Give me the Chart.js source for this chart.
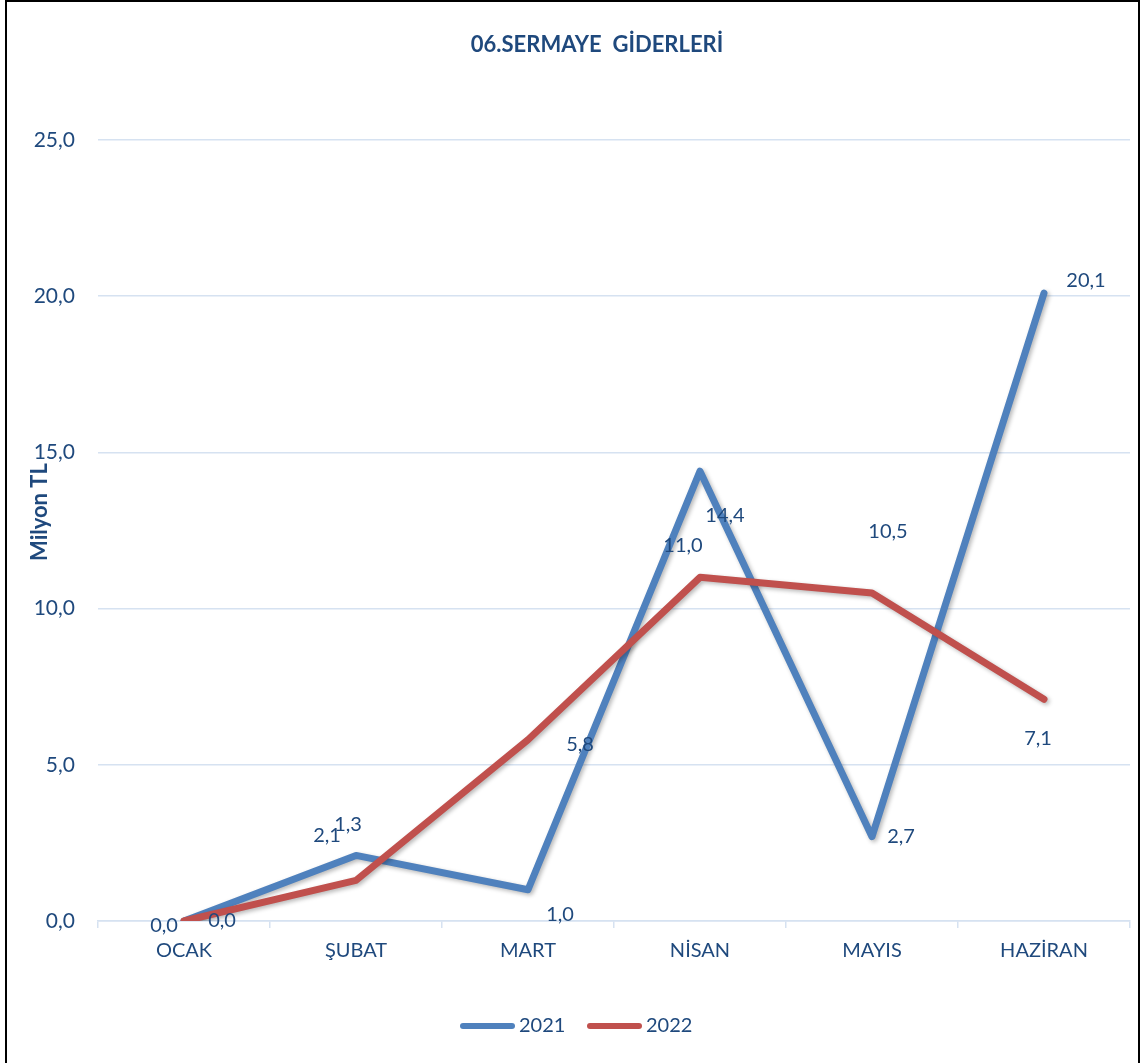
<!DOCTYPE html>
<html><head><meta charset="utf-8">
<script src="https://cdn.jsdelivr.net/npm/chart.js@4/dist/chart.umd.min.js"></script>
<style>html,body{margin:0;padding:0;background:#fff;overflow:hidden}</style>
</head><body>
<canvas id="c" width="1144" height="1063"></canvas>
<script>
const chartTitle = '06.SERMAYE  GİDERLERİ';
const yAxisTitle = 'Milyon TL';
const categories = ['OCAK', 'ŞUBAT', 'MART', 'NİSAN', 'MAYIS', 'HAZİRAN'];
const seriesNames = ['2021', '2022'];
const values2021 = [0.0, 2.1, 1.0, 14.4, 2.7, 20.1];
const values2022 = [0.0, 1.3, 5.8, 11.0, 10.5, 7.1];
const yTickValues = [0, 5, 10, 15, 20, 25];

// label placement offsets (pixels from point), styling only
const labelOffsets2021 = [[-20, 5], [-29, -20], [32, 25], [25, 44], [29, 0], [42, -13]];
const labelOffsets2022 = [[38, 0], [-8, -56], [52, 5], [-17, -32], [16, -61], [-6, 39]];

const TEXT = '#1F497D';
const GRID = '#D6E2F1';
const FONT = 'Lato, "Open Sans", sans-serif';
const fmt = v => v.toFixed(1).replace('.', ',');

const decor = {
  id: 'decor',
  beforeDatasetDraw(chart) {
    const ctx = chart.ctx;
    ctx.save();
    ctx.shadowColor = 'rgba(0,0,0,0.28)';
    ctx.shadowBlur = 4;
    ctx.shadowOffsetX = 2;
    ctx.shadowOffsetY = 2;
  },
  afterDatasetDraw(chart) { chart.ctx.restore(); },
  afterDraw(chart) {
    const ctx = chart.ctx;
    ctx.save();
    // frame
    ctx.strokeStyle = '#000';
    ctx.lineWidth = 2;
    ctx.strokeRect(6, 1, 1133, 1080);
    // title
    ctx.fillStyle = TEXT;
    ctx.font = 'bold 22px ' + FONT;
    ctx.textAlign = 'center';
    ctx.textBaseline = 'middle';
    ctx.fillText(chartTitle, 597, 45);
    // y title
    ctx.save();
    ctx.translate(40, 512);
    ctx.rotate(-Math.PI / 2);
    ctx.font = 'bold 22px ' + FONT;
    ctx.fillText(yAxisTitle, 0, 0);
    ctx.restore();
    // data labels
    ctx.font = '20px ' + FONT;
    const offs = [labelOffsets2021, labelOffsets2022];
    chart.data.datasets.forEach((ds, di) => {
      const meta = chart.getDatasetMeta(di);
      meta.data.forEach((pt, i) => {
        const o = offs[di][i];
        ctx.fillText(fmt(ds.data[i]), pt.x + o[0], pt.y + o[1]);
      });
    });
    // legend
    const legendY = 1026;
    let x = 460;
    ctx.textAlign = 'left';
    ctx.font = '20px ' + FONT;
    chart.data.datasets.forEach((ds) => {
      ctx.strokeStyle = ds.borderColor;
      ctx.lineWidth = 6;
      ctx.lineCap = 'round';
      ctx.beginPath();
      ctx.moveTo(x + 3, legendY);
      ctx.lineTo(x + 52, legendY);
      ctx.stroke();
      ctx.fillStyle = TEXT;
      ctx.fillText(ds.label, x + 59, legendY);
      x += 127;
    });
    ctx.restore();
  }
};

new Chart(document.getElementById('c'), {
  type: 'line',
  data: {
    labels: categories,
    datasets: [
      { label: seriesNames[0], data: values2021, borderColor: '#4F81BD', backgroundColor: '#4F81BD',
        borderWidth: 7, pointRadius: 0, tension: 0, borderCapStyle: 'round', borderJoinStyle: 'round', order: 1 },
      { label: seriesNames[1], data: values2022, borderColor: '#C0504D', backgroundColor: '#C0504D',
        borderWidth: 7, pointRadius: 0, tension: 0, borderCapStyle: 'round', borderJoinStyle: 'round', order: 0 }
    ]
  },
  options: {
    responsive: false,
    animation: false,
    layout: { padding: { top: 140, bottom: 0, left: 0, right: 14 } },
    plugins: { legend: { display: false }, title: { display: false }, tooltip: { enabled: false } },
    scales: {
      x: {
        offset: true,
        grid: { offset: true, drawOnChartArea: false, drawTicks: true, tickLength: 7, color: GRID, lineWidth: 1.5 },
        border: { display: true, color: GRID, width: 1.5 },
        ticks: { color: TEXT, font: { family: FONT, size: 20 }, padding: 11, maxRotation: 0 },
        afterFit(s) { s.height = 142; }
      },
      y: {
        min: 0, max: 25,
        afterBuildTicks(s) { s.ticks = yTickValues.map(v => ({ value: v })); },
        grid: { drawTicks: false, color: GRID, lineWidth: 1.5 },
        border: { display: false },
        ticks: { color: TEXT, font: { family: FONT, size: 21 }, padding: 23, callback: v => fmt(v) },
        afterFit(s) { s.width = 98; }
      }
    }
  },
  plugins: [decor]
});
</script>
</body></html>
